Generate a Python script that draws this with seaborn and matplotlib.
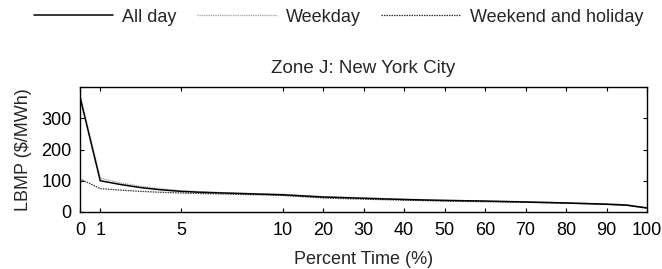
import numpy as np
import pandas as pd
import matplotlib
matplotlib.use("Agg")
import matplotlib.pyplot as plt
import seaborn as sns

sns.set_theme(style="ticks")
plt.rcParams['font.family'] = ['Liberation Sans', 'DejaVu Sans']

pct = [0, 1, 2, 3, 4, 5, 6, 7, 8, 9, 10, 20, 30, 40, 50, 60, 70, 80, 90, 95, 100]
all_day = [368, 100, 88, 78, 71, 66, 63, 61, 59, 57, 55, 48, 44, 40, 37, 35, 32, 29, 25, 22, 13]
weekday = [375, 108, 93, 82, 74, 68, 65, 62, 60, 58, 57, 49, 45, 41, 38, 35, 33, 29, 26, 23, 14]
weekend = [106, 75, 70, 66, 63, 61, 59, 58, 56, 55, 53, 45, 41, 38, 35, 33, 31, 28, 24, 21, 12]

xticks = [0, 1, 5, 10, 20, 30, 40, 50, 60, 70, 80, 90, 100]
yticks = [0, 100, 200, 300]

df = pd.DataFrame({"pct": pct * 3,
                   "lbmp": all_day + weekday + weekend,
                   "series": ["All day"] * len(pct) + ["Weekday"] * len(pct) + ["Weekend and holiday"] * len(pct)})

fig = plt.figure(figsize=(6.62, 2.69), dpi=100)
ax = fig.add_axes([80/662, 1 - 212/269, (647-80)/662, (212-87)/269])

def fwd(x):
    x = np.asarray(x, dtype=float)
    return np.where(x <= 10, x, 10 + (x - 10) / 5.0)

def inv(y):
    y = np.asarray(y, dtype=float)
    return np.where(y <= 10, y, 10 + (y - 10) * 5.0)

ax.set_xscale('function', functions=(fwd, inv))

styles = {"All day": dict(color="black", lw=1.1, ls="-"),
          "Weekday": dict(color="#aaaaaa", lw=1.0, ls=(0, (1, 0.6))),
          "Weekend and holiday": dict(color="#333333", lw=0.9, ls=(0, (1.2, 0.8)))}
for name in ["Weekday", "Weekend and holiday", "All day"]:
    sub = df[df.series == name]
    sns.lineplot(data=sub, x="pct", y="lbmp", ax=ax, label=name, **styles[name])

FS = 13
ax.set_xlim(0, 100)
ax.set_ylim(0, 400)
ax.set_xticks(xticks)
ax.set_xticklabels([str(t) for t in xticks])
ax.set_yticks(yticks)
ax.tick_params(direction="in", top=True, right=True, length=3, width=0.8,
               labelsize=FS, colors="black")
ax.tick_params(axis="x", pad=7)
ax.tick_params(axis="y", pad=6)
for s in ax.spines.values():
    s.set_linewidth(1.0)
    s.set_color("black")
ax.set_xlabel("Percent Time (%)", fontsize=FS, labelpad=9)
ax.set_ylabel("LBMP ($/MWh)", fontsize=FS, labelpad=7)
ax.set_title("Zone J: New York City", fontsize=13.5, pad=10)

handles, labels = ax.get_legend_handles_labels()
order = ["All day", "Weekday", "Weekend and holiday"]
hmap = dict(zip(labels, handles))
ax.legend([hmap[o] for o in order], order, loc="center",
          bbox_to_anchor=(338.5/662, 1 - 17/269), bbox_transform=fig.transFigure,
          ncol=3, frameon=False, fontsize=FS, handlelength=4.4,
          columnspacing=1.15, handletextpad=0.5, borderpad=0, borderaxespad=0)

fig.savefig("out.png", dpi=100)
